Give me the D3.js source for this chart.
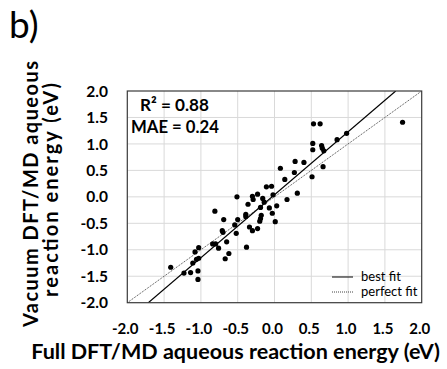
<!DOCTYPE html>
<html><head><meta charset="utf-8">
<script src="https://cdn.jsdelivr.net/npm/d3@7"></script>
<style>body{margin:0;background:#fff}svg{display:block}</style>
</head><body><svg id="c" width="447" height="369"></svg>
<script>
// ---- data ----
const xValues = [-1.41,-1.23,-1.14,-1.04,-1.04,-1.11,-1.06,-1.03,-1.08,-1.03,-0.84,-0.80,-0.76,-0.71,-0.70,-0.65,-0.62,-0.67,-0.81,-0.51,-0.69,-0.54,-0.50,-0.52,-0.39,-0.39,-0.36,-0.30,-0.29,-0.23,-0.16,-0.14,-0.19,-0.18,-0.19,-0.20,-0.34,-0.30,-0.23,-0.38,-0.11,-0.04,-0.02,-0.07,-0.03,0.03,0.01,0.14,0.17,0.08,0.28,0.40,0.27,0.31,0.51,0.66,0.53,0.62,1.74,0.52,0.52,0.64,0.65,0.67,0.85,0.98];
const yValues = [-1.33,-1.44,-1.43,-1.40,-1.56,-1.25,-1.18,-1.16,-1.04,-0.96,-0.89,-0.89,-0.97,-0.64,-0.67,-0.85,-1.07,-1.17,-0.27,0.00,-0.43,-0.53,-0.43,-0.69,-0.33,-0.37,-0.14,0.01,-0.05,0.05,-0.03,-0.10,-0.20,-0.35,-0.41,-0.46,-0.57,-0.64,-0.60,-0.95,0.19,0.20,0.04,-0.21,-0.31,-0.17,-0.47,0.33,-0.05,0.54,0.67,0.65,0.46,0.07,0.38,0.57,1.38,1.38,1.41,1.01,0.89,0.97,0.92,0.87,1.08,1.20];
const tickValues = [-2,-1.5,-1,-0.5,0,0.5,1,1.5,2];
const domain = [-2, 2];
const fitSlope = 1.19, fitIntercept = 0.04;
const statLabels = ["R\u00B2 = 0.88", "MAE = 0.24"];
const legendLabels = ["best fit", "perfect fit"];
const xTitle = "Full DFT/MD aqueous reaction energy (eV)";
const yTitleLines = ["Vacuum DFT/MD aqueous", "reaction energy (eV)"];
const panelLabel = "b)";

// ---- layout ----
const svg = d3.select("#c");
const L = 127.3, R = 421.7, T = 91, B = 302.7;
const FONT = "Lato, 'Open Sans', sans-serif";
const x = d3.scaleLinear().domain(domain).range([L, R]);
const y = d3.scaleLinear().domain(domain).range([B, T]);
const fmt = v => d3.format(".1f")(v).replace("\u2212", "-");
function fitWidth(sel, target) {
  const w = sel.node().getComputedTextLength();
  const fs = parseFloat(sel.attr("font-size"));
  sel.attr("font-size", fs * target / w);
}

svg.append("rect").attr("width", 447).attr("height", 369).attr("fill", "#fff");

// grid
const g = svg.append("g");
g.selectAll("line.vx").data(tickValues.slice(1, -1)).join("line")
  .attr("class", "vx")
  .attr("x1", d => x(d)).attr("x2", d => x(d)).attr("y1", T).attr("y2", B)
  .attr("stroke", "#d9d9d9").attr("stroke-width", 1);
g.selectAll("line.hy").data(tickValues.slice(1, -1)).join("line")
  .attr("class", "hy")
  .attr("y1", d => y(d)).attr("y2", d => y(d)).attr("x1", L).attr("x2", R)
  .attr("stroke", "#d9d9d9").attr("stroke-width", 1);

// clip
svg.append("clipPath").attr("id", "clip").append("rect")
  .attr("x", L).attr("y", T).attr("width", R - L).attr("height", B - T);
const plot = svg.append("g").attr("clip-path", "url(#clip)");

// perfect fit (dotted)
plot.append("line")
  .attr("x1", x(domain[0])).attr("y1", y(domain[0]))
  .attr("x2", x(domain[1])).attr("y2", y(domain[1]))
  .attr("stroke", "#444").attr("stroke-width", 1).attr("stroke-dasharray", "1,1");
// best fit
const xa = (domain[0] - fitIntercept) / fitSlope, xb = (domain[1] - fitIntercept) / fitSlope;
plot.append("line")
  .attr("x1", x(xa)).attr("y1", y(fitSlope * xa + fitIntercept))
  .attr("x2", x(xb)).attr("y2", y(fitSlope * xb + fitIntercept))
  .attr("stroke", "#000").attr("stroke-width", 1.2);

// points
plot.selectAll("circle").data(xValues.map((v, i) => [v, yValues[i]])).join("circle")
  .attr("cx", d => x(d[0])).attr("cy", d => y(d[1])).attr("r", 2.6).attr("fill", "#000");

// frame
svg.append("rect").attr("x", L).attr("y", T).attr("width", R - L).attr("height", B - T)
  .attr("fill", "none").attr("stroke", "#3a3a3a").attr("stroke-width", 1.2);

// axes tick labels
svg.append("g").selectAll("text").data(tickValues).join("text")
  .attr("x", d => x(d) - 2).attr("y", 334)
  .attr("text-anchor", "middle").attr("font-family", FONT).attr("font-weight", "bold")
  .attr("font-size", 15).attr("fill", "#000").text(fmt);
svg.append("g").selectAll("text").data(tickValues).join("text")
  .attr("x", 108).attr("y", d => y(d)).attr("dy", "0.36em")
  .attr("text-anchor", "end").attr("font-family", FONT).attr("font-weight", "bold")
  .attr("font-size", 15.5).attr("fill", "#000").text(fmt);

// titles
const xt = svg.append("text").attr("x", 235.5).attr("y", 359).attr("text-anchor", "middle")
  .attr("font-family", FONT).attr("font-weight", "bold").attr("font-size", 20)
  .attr("fill", "#000").text(xTitle);
fitWidth(xt, 409);
const yTargets = [266, 214];
const yCenters = [194, 190];
yTitleLines.forEach((t, i) => {
  svg.append("text").attr("transform", `translate(${38 + i * 20},${yCenters[i]}) rotate(-90)`)
    .attr("text-anchor", "middle").attr("font-family", FONT).attr("font-weight", "bold")
    .attr("font-size", 20).attr("fill", "#000")
    .attr("textLength", yTargets[i]).attr("lengthAdjust", "spacing").text(t);
});

// panel label
svg.append("text").attr("x", 9).attr("y", 38).attr("font-family", FONT)
  .attr("font-size", 37).attr("fill", "#000").text(panelLabel);

// stats
const s1 = svg.append("text").attr("x", 140).attr("y", 111).attr("font-family", FONT).attr("font-weight", "bold")
  .attr("font-size", 17).attr("fill", "#000").text(statLabels[0]);
fitWidth(s1, 69);
const s2 = svg.append("text").attr("x", 131).attr("y", 133).attr("font-family", FONT).attr("font-weight", "bold")
  .attr("font-size", 17).attr("fill", "#000").text(statLabels[1]);
fitWidth(s2, 88);

// legend
const lg = svg.append("g");
legendLabels.forEach((t, i) => {
  const ly = 277 + i * 15;
  lg.append("line").attr("x1", 332).attr("x2", 353).attr("y1", ly).attr("y2", ly)
    .attr("stroke", i === 0 ? "#000" : "#444").attr("stroke-width", 1)
    .attr("stroke-dasharray", i === 0 ? null : "1,1");
  lg.append("text").attr("x", 361).attr("y", ly + 4).attr("font-family", FONT)
    .attr("font-size", 13).attr("fill", "#000").text(t);
});
</script>
</body></html>
